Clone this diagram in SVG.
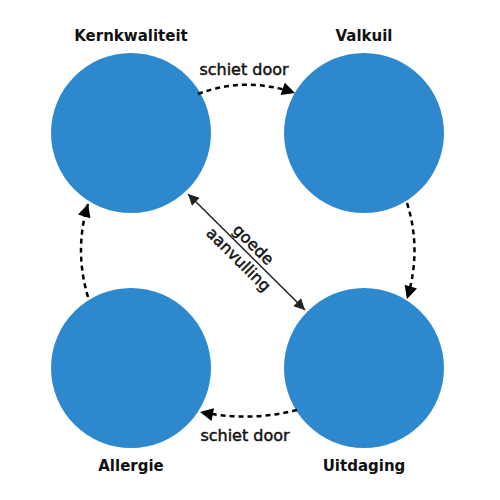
<svg xmlns="http://www.w3.org/2000/svg" width="500" height="500" viewBox="0 0 500 500">
<style>
.node{fill:#2E88CD}
.lbl{font-family:"DejaVu Sans",Verdana,sans-serif;font-size:15px;font-weight:bold;fill:#111;text-anchor:middle}
.t{font-family:"DejaVu Sans",Verdana,sans-serif;font-size:16px;fill:#111;stroke:#111;stroke-width:0.45;text-anchor:middle}
.dash{fill:none;stroke:#000;stroke-width:2.5;stroke-dasharray:5,4}
.solid{fill:none;stroke:#222;stroke-width:1.5}
</style>
<defs>
<marker id="ah" viewBox="0 0 10 10" refX="10" refY="5" markerWidth="15" markerHeight="13" markerUnits="userSpaceOnUse" orient="auto">
<path d="M0,0 L10,5 L0,10 Z" fill="#000"/>
</marker>
<marker id="sa" viewBox="0 0 10 10" refX="10" refY="5" markerWidth="13" markerHeight="11" markerUnits="userSpaceOnUse" orient="auto-start-reverse">
<path d="M0,0 L10,5 L0,10 Z" fill="#222"/>
</marker>
</defs>
<g id="kernkwaliteit"><circle class="node" cx="131" cy="133" r="80"/><text class="lbl" x="131" y="41">Kernkwaliteit</text></g>
<g id="valkuil"><circle class="node" cx="364" cy="133" r="80"/><text class="lbl" x="364" y="41">Valkuil</text></g>
<g id="allergie"><circle class="node" cx="131" cy="368" r="80"/><text class="lbl" x="131" y="471">Allergie</text></g>
<g id="uitdaging"><circle class="node" cx="364" cy="368" r="80"/><text class="lbl" x="364" y="471">Uitdaging</text></g>
<g id="connectors">
<path class="dash" d="M198,94 Q245,76 295,93" marker-end="url(#ah)"/>
<path class="dash" d="M407,203 Q422,250 407,299" marker-end="url(#ah)"/>
<path class="dash" d="M297,410 Q250,422 200,412" marker-end="url(#ah)"/>
<path class="dash" d="M88,297 Q74,250 88,204" marker-end="url(#ah)"/>
<path class="solid" d="M188,194 L305,310" marker-start="url(#sa)" marker-end="url(#sa)"/>
<text class="t" x="244" y="75">schiet door</text>
<text class="t" x="245" y="441">schiet door</text>
<g transform="translate(246,252) rotate(44.8)">
<text class="t" x="0" y="-5">goede</text>
<text class="t" x="0" y="16">aanvulling</text>
</g>
</g>
</svg>
